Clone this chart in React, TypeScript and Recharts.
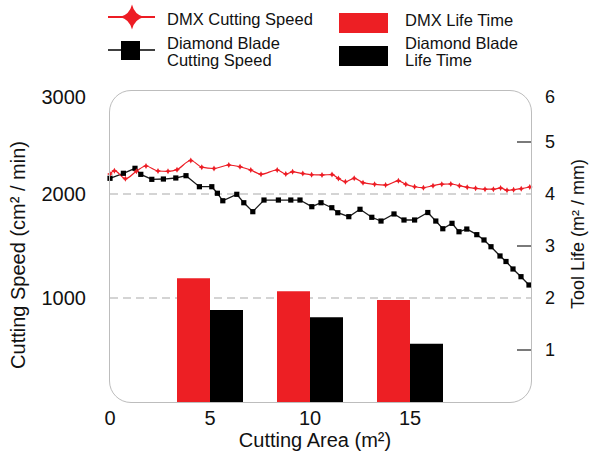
import React from "react";
import { ComposedChart, Bar, Line, XAxis, YAxis, CartesianGrid } from "recharts";

const FONT = "'Liberation Sans', Arial, Helvetica, sans-serif";
const RED = "#ed1c24";

const areaTicks = [0, 5, 10, 15];
const speedTicks = [1000, 2000, 3000];
const lifeTicks = [1, 2, 3, 4, 5, 6];

// DMX cutting speed (cm²/min) vs cutting area (m²)
const dmxArea = [
  0, 0.22, 0.77, 1.32, 1.8, 2.4, 2.9, 3.35, 4.04, 4.59, 5.2, 5.94, 6.5, 7.04, 7.55,
  8.36, 8.79, 9.13, 9.64, 10.08, 10.6, 11.1, 11.42, 11.77, 12.21, 12.65, 13.23, 13.78,
  14.42, 14.79, 15.23, 15.67, 16.15, 16.59, 17.04, 17.47, 17.86, 18.28, 18.75, 19.17,
  19.53, 19.85, 20.18, 20.56, 20.99,
];
const dmxSpeed = [
  2192, 2224, 2147, 2219, 2269, 2221, 2218, 2234, 2322, 2258, 2245, 2279, 2262, 2231, 2190,
  2231, 2192, 2213, 2196, 2185, 2183, 2187, 2148, 2118, 2151, 2109, 2093, 2086,
  2127, 2093, 2070, 2061, 2080, 2094, 2096, 2080, 2064, 2055, 2046, 2046,
  2058, 2036, 2041, 2051, 2067,
];

// Diamond blade cutting speed
const bladeArea = [
  0, 0.67, 1.25, 1.54, 2.09, 2.67, 3.29, 3.8, 4.47, 5.09, 5.37, 5.64, 6.34, 6.69, 7.14,
  7.7, 8.42, 9.04, 9.5, 10.09, 10.55, 11.09, 11.39, 11.94, 12.5, 13.09, 13.55, 14.2,
  14.7, 15.23, 15.89, 16.29, 16.64, 17.1, 17.45, 17.84, 18.34, 18.7, 19.05, 19.5,
  19.8, 20.15, 20.55, 20.95,
];
const bladeSpeed = [
  2151, 2199, 2247, 2189, 2141, 2144, 2154, 2176, 2070, 2070, 2007, 1935, 1997, 1916, 1830,
  1942, 1942, 1942, 1942, 1878, 1916, 1868, 1820, 1782, 1853, 1776, 1740, 1808,
  1750, 1750, 1822, 1740, 1666, 1718, 1637, 1663, 1609, 1558, 1493, 1404,
  1351, 1279, 1205, 1125,
];

// Tool life (m²/mm)
const lifeArea = [5, 10, 15];
const dmxLife = [2.38, 2.13, 1.96];
const bladeLife = [1.77, 1.63, 1.12];

const lifeData = lifeArea.map((a, i) => ({ area: a, dmx: dmxLife[i], blade: bladeLife[i] }));
const dmxData = dmxArea.map((a, i) => ({ area: a, speed: dmxSpeed[i] }));
const bladeData = bladeArea.map((a, i) => ({ area: a, speed: bladeSpeed[i] }));

function sparkle(cx: number, cy: number, rx: number, ry: number, k: number) {
  return (
    `M${cx - rx},${cy} Q${cx - k},${cy - k} ${cx},${cy - ry} ` +
    `Q${cx + k},${cy - k} ${cx + rx},${cy} ` +
    `Q${cx + k},${cy + k} ${cx},${cy + ry} ` +
    `Q${cx - k},${cy + k} ${cx - rx},${cy} Z`
  );
}

function StarDot(props: any) {
  const { cx, cy } = props;
  if (cx == null || cy == null) return null;
  return <path d={sparkle(cx, cy, 3, 3, 0.6)} fill={RED} stroke="none" />;
}

function SquareDot(props: any) {
  const { cx, cy } = props;
  if (cx == null || cy == null) return null;
  return <rect x={cx - 2.6} y={cy - 2.6} width={5.2} height={5.2} fill="#000" />;
}

// top label sits a little lower, inside the frame
function SpeedTick(props: any) {
  const { x, y, payload } = props;
  const v = payload.value;
  const shift = v === 3000 ? 7 : 0;
  return (
    <text x={x} y={y + shift} dy="0.35em" textAnchor="end" fontSize={20} fill="#111" fontFamily={FONT}>
      {v}
    </text>
  );
}

function LifeTick(props: any) {
  const { x, y, payload } = props;
  const v = payload.value;
  const shift = v === 6 ? 7 : 0;
  return (
    <g>
      {v % 2 === 1 && (
        <line x1={x - 28} x2={x - 14} y1={y} y2={y} stroke="#6b6b6b" strokeWidth={1.8} />
      )}
      <text x={x} y={y + shift} dy="0.35em" textAnchor="start" fontSize={18} fill="#111" fontFamily={FONT}>
        {v}
      </text>
    </g>
  );
}

const legendText = { position: "absolute" as const, fontSize: 16.5, lineHeight: "17px", color: "#111", whiteSpace: "nowrap" as const };

export default function App() {
  return (
    <div style={{ position: "absolute", left: 0, top: 0, width: 592, height: 454, background: "#fff", fontFamily: FONT }}>
      <ComposedChart
        width={592}
        height={454}
        data={lifeData}
        barGap={0}
        margin={{ top: 90, right: 0, bottom: 0, left: 10 }}
      >
        <CartesianGrid
          yAxisId="left"
          xAxisId="lines"
          vertical={false}
          horizontalValues={[1000, 2000]}
          stroke="#c6c6c6"
          strokeWidth={1.5}
          strokeDasharray="8 5"
        />
        <XAxis
          xAxisId="lines"
          dataKey="area"
          type="number"
          domain={[0, 21.05]}
          ticks={areaTicks}
          height={52}
          axisLine={false}
          tickLine={false}
          tickSize={0}
          tickMargin={9}
          interval={0}
          tick={{ fontSize: 20, fill: "#111", fontFamily: FONT }}
        />
        <XAxis xAxisId="bars" dataKey="area" type="number" domain={[0, 21.05]} height={0} hide />
        <YAxis
          yAxisId="left"
          orientation="left"
          width={100}
          domain={[0, 3000]}
          ticks={speedTicks}
          interval={0}
          axisLine={false}
          tickLine={false}
          tickSize={0}
          tickMargin={24}
          tick={<SpeedTick />}
        />
        <YAxis
          yAxisId="right"
          orientation="right"
          width={61}
          domain={[0, 6]}
          ticks={lifeTicks}
          interval={0}
          axisLine={false}
          tickLine={false}
          tickSize={0}
          tickMargin={14}
          tick={<LifeTick />}
        />
        <Bar xAxisId="bars" yAxisId="right" dataKey="dmx" fill="#ed1f24" barSize={33} isAnimationActive={false} />
        <Bar xAxisId="bars" yAxisId="right" dataKey="blade" fill="#000" barSize={33} isAnimationActive={false} />
        <Line
          xAxisId="lines"
          yAxisId="left"
          data={bladeData}
          dataKey="speed"
          type="linear"
          stroke="#1a1a1a"
          strokeWidth={1.3}
          dot={<SquareDot />}
          activeDot={false}
          isAnimationActive={false}
        />
        <Line
          xAxisId="lines"
          yAxisId="left"
          data={dmxData}
          dataKey="speed"
          type="monotone"
          stroke={RED}
          strokeWidth={1.2}
          dot={<StarDot />}
          activeDot={false}
          isAnimationActive={false}
        />
      </ComposedChart>

      {/* plot frame */}
      <div
        style={{
          position: "absolute",
          left: 109,
          top: 90,
          width: 423,
          height: 313,
          boxSizing: "border-box",
          border: "1.5px solid #bdbdbd",
          borderRadius: 22,
          pointerEvents: "none",
        }}
      />

      {/* legend */}
      <svg width={592} height={80} style={{ position: "absolute", left: 0, top: 0 }}>
        <line x1={108} x2={155} y1={17} y2={17} stroke={RED} strokeWidth={2} />
        <path d={sparkle(132, 17, 12, 12.5, 2.4)} fill={RED} />
        <line x1={108} x2={155} y1={50} y2={50} stroke="#000" strokeWidth={1.5} />
        <rect x={121} y={41} width={19} height={19} fill="#000" />
        <rect x={339} y={13} width={49} height={20} fill="#ed1f24" />
        <rect x={339} y={46} width={49} height={20} fill="#000" />
      </svg>
      <div style={{ ...legendText, left: 167, top: 11 }}>DMX Cutting Speed</div>
      <div style={{ ...legendText, left: 167, top: 35 }}>
        Diamond Blade
        <br />
        Cutting Speed
      </div>
      <div style={{ ...legendText, left: 405, top: 12 }}>DMX Life Time</div>
      <div style={{ ...legendText, left: 405, top: 35 }}>
        Diamond Blade
        <br />
        Life Time
      </div>

      {/* axis titles */}
      <div
        style={{
          position: "absolute",
          left: 315,
          top: 440,
          transform: "translate(-50%, -50%)",
          whiteSpace: "nowrap",
          fontSize: 20,
          color: "#111",
        }}
      >
        Cutting Area (m²)
      </div>
      <div
        style={{
          position: "absolute",
          left: 18,
          top: 255,
          transform: "translate(-50%, -50%) rotate(-90deg)",
          whiteSpace: "nowrap",
          fontSize: 20,
          color: "#111",
        }}
      >
        Cutting Speed (cm² / min)
      </div>
      <div
        style={{
          position: "absolute",
          left: 578,
          top: 234,
          transform: "translate(-50%, -50%) rotate(-90deg)",
          whiteSpace: "nowrap",
          fontSize: 18,
          color: "#111",
        }}
      >
        Tool Life (m² / mm)
      </div>
    </div>
  );
}
